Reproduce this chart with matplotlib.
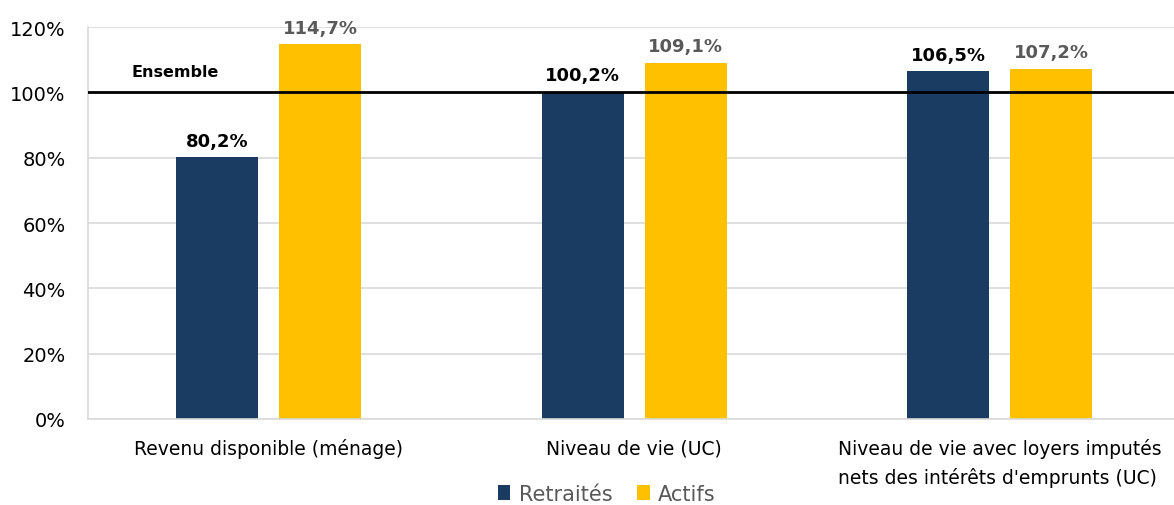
import matplotlib.pyplot as plt
import numpy as np
from matplotlib.ticker import FuncFormatter

plt.rcParams['font.family'] = ['DejaVu Sans']

categories = ['Revenu disponible (ménage)',
              'Niveau de vie (UC)',
              "Niveau de vie avec loyers imputés\nnets des intérêts d'emprunts (UC)"]
retraites = [80.2, 100.2, 106.5]
actifs = [114.7, 109.1, 107.2]
ensemble = 100

fig = plt.figure(figsize=(11.74, 5.06), dpi=100)
ax = fig.add_axes([88 / 1174, 86 / 506, 1086 / 1174, 392 / 506])

x = np.arange(len(categories))
w = 0.224
off = 0.1408
b1 = ax.bar(x - off, retraites, w, color='#1A3C63', label='Retraités', zorder=2)
b2 = ax.bar(x + off, actifs, w, color='#FFC000', label='Actifs', zorder=2)

# ligne de référence "Ensemble"
ax.axhline(ensemble, color='black', lw=2, zorder=3)
ax.text(-0.375, 106.5, 'Ensemble', fontsize=11.5, fontweight='bold', va='center', ha='left')

def fmt(v):
    return f'{v:.1f}%'.replace('.', ',')

for bar, v in zip(b1, retraites):
    ax.text(bar.get_x() + bar.get_width() / 2, v + 2.3, fmt(v), ha='center', va='bottom',
            fontsize=13, fontweight='bold', color='black')
for bar, v in zip(b2, actifs):
    ax.text(bar.get_x() + bar.get_width() / 2, v + 2.3, fmt(v), ha='center', va='bottom',
            fontsize=13, fontweight='bold', color='#595959')

ax.set_xlim(-0.4935, 2.476)
ax.set_ylim(0, 120)
ax.set_yticks(range(0, 121, 20))
ax.yaxis.set_major_formatter(FuncFormatter(lambda v, _: f'{v:.0f}%'))
ax.set_xticks(x)
ax.set_xticklabels(categories, fontsize=13.5, va='top', linespacing=1.55)
ax.tick_params(axis='y', labelsize=14, length=0, pad=16)
ax.tick_params(axis='x', length=0, pad=14)
for lbl in ax.get_xticklabels():
    lbl.set_multialignment('left')

ax.grid(axis='y', color='#D9D9D9', lw=1.2, zorder=0)
for s in ['top', 'right']:
    ax.spines[s].set_visible(False)
for s in ['left', 'bottom']:
    ax.spines[s].set_color('#D9D9D9')
    ax.spines[s].set_linewidth(1.2)

leg = fig.legend(handles=[b1, b2], loc='center', bbox_to_anchor=(0.517, 0.022),
                 ncol=2, frameon=False, fontsize=15, handlelength=0.6, handleheight=0.7,
                 handletextpad=0.4, columnspacing=1.2)
for t in leg.get_texts():
    t.set_color('#595959')

fig.savefig('out.png', dpi=100)
